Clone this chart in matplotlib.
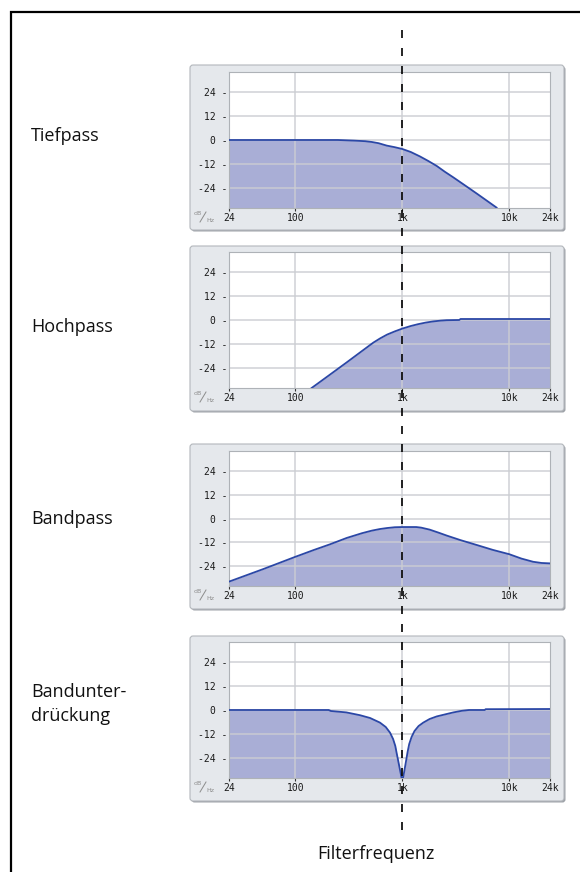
import matplotlib
matplotlib.use("Agg")
import matplotlib.pyplot as plt
from matplotlib.patches import FancyBboxPatch

# ---------------- data ----------------
panel_names = ["Tiefpass", "Hochpass", "Bandpass", "Bandunter-\ndrückung"]

x_ticks = [24, 100, 1000, 10000, 24000]
x_tick_labels = ["24", "100", "1k", "10k", "24k"]
y_ticks = [24, 12, 0, -12, -24]
y_tick_labels = ["24 -", "12 -", "0 -", "-12 -", "-24 -"]
x_grid = [100, 1000, 10000]

lowpass_freq = [24, 100, 250, 350, 450, 520, 600, 715, 850, 1000, 1200, 1460, 1750,
                2100, 2500, 3000, 4000, 5000, 6000, 7600]
lowpass_db = [0, 0, 0, -0.3, -0.6, -1.0, -1.6, -2.8, -3.6, -4.5, -6.0, -8.2, -10.5,
              -13.0, -15.9, -18.7, -23.3, -26.9, -29.9, -33.8]

highpass_freq = [142, 200, 302, 420, 536, 620, 720, 850, 1000, 1200, 1400, 1650, 1950,
                 2300, 2600, 3400, 3500, 24000]
highpass_db = [-34, -28.2, -21.2, -15.5, -11.3, -9.2, -7.3, -5.7, -4.3, -3.0, -2.1, -1.3,
               -0.7, -0.3, -0.1, 0, 0.5, 0.5]

bandpass_freq = [24, 50, 100, 150, 211, 302, 420, 520, 618, 720, 850, 1000, 1350, 1500,
                 1800, 2200, 2600, 3500, 5000, 7000, 10000, 13000, 16700, 20000, 24000]
bandpass_db = [-31.8, -25.5, -19.3, -15.8, -13.0, -9.8, -7.4, -6.1, -5.3, -4.8, -4.4, -4.3,
               -4.3, -4.6, -5.6, -7.2, -8.6, -10.9, -13.4, -15.8, -18.0, -20.2, -21.8,
               -22.4, -22.6]

notch_freq = [24, 205, 215, 300, 402, 500, 618, 700, 767, 820, 860, 885, 920, 960, 985,
              1015, 1040, 1080, 1120, 1160, 1220, 1300, 1420, 1570, 1800, 2100, 2600,
              3000, 3600, 4200, 5900, 6000, 24000]
notch_db = [0, 0, -0.5, -1.2, -2.6, -4.0, -6.3, -8.5, -11.3, -14.5, -18.0, -21.5, -26.0,
            -31.0, -34.0, -34.0, -31.0, -26.0, -21.0, -17.0, -13.5, -10.5, -8.0, -6.3,
            -4.5, -3.2, -2.0, -1.2, -0.4, 0, 0, 0.4, 0.5]

curves_freq = [lowpass_freq, highpass_freq, bandpass_freq, notch_freq]
curves_db = [lowpass_db, highpass_db, bandpass_db, notch_db]

filter_freq = 1000
x_range = (24, 24000)
y_range = (-34, 34)

# ---------------- layout (pixels) ----------------
W, H = 580, 872
plot_rects = [(229, 72, 550, 208), (229, 252, 550, 388), (229, 451, 550, 586), (229, 642, 550, 778)]
box_rects = [(190, 65, 564, 230), (190, 246, 564, 411), (190, 444, 564, 609), (190, 636, 564, 801)]
label_baselines = [141, 332, 524, 721]

fill_color = "#a9aed6"
line_color = "#2b47a6"
box_face = "#e5e8ec"
box_edge = "#b3b7bc"
grid_color = "#cbcdd2"
tick_color = "#333333"

fig = plt.figure(figsize=(W / 100, H / 100), dpi=100)
fig.patch.set_facecolor("white")

bg = fig.add_axes([0, 0, 1, 1])
bg.set_xlim(0, W)
bg.set_ylim(H, 0)
bg.axis("off")

# outer frame (left and top edges)
bg.plot([11, 11, W + 5], [H + 5, 12, 12], color="black", lw=1.6, solid_joinstyle="miter", zorder=1)

label_font = ["Open Sans", "DejaVu Sans"]
mono_font = ["DejaVu Sans Mono"]

axes = []
for i in range(4):
    bx0, by0, bx1, by1 = box_rects[i]
    # shadow
    bg.add_patch(FancyBboxPatch((bx0 + 1.5, by0 + 1.5), bx1 - bx0, by1 - by0,
                                boxstyle="round,pad=0,rounding_size=3",
                                facecolor="#9ea2a8", edgecolor="none", zorder=2))
    bg.add_patch(FancyBboxPatch((bx0, by0), bx1 - bx0, by1 - by0,
                                boxstyle="round,pad=0,rounding_size=3",
                                facecolor=box_face, edgecolor=box_edge, lw=0.8, zorder=3))

    l, t, r, b = plot_rects[i]
    ax = fig.add_axes([l / W, 1 - b / H, (r - l) / W, (b - t) / H])
    ax.set_zorder(5)
    ax.set_facecolor("white")
    ax.set_xscale("log")
    ax.set_xlim(*x_range)
    ax.set_ylim(*y_range)

    f = curves_freq[i]
    d = curves_db[i]
    ax.fill_between(f, d, y_range[0] - 5, color=fill_color, lw=0, zorder=1)
    for yv in y_ticks:
        ax.axhline(yv, color=grid_color, lw=1.2, alpha=0.85, zorder=2)
    for xv in x_grid:
        ax.axvline(xv, color=grid_color, lw=1.2, alpha=0.85, zorder=2)
    ax.plot(f, d, color=line_color, lw=1.3, zorder=3, solid_joinstyle="round")

    ax.minorticks_off()
    ax.set_xticks(x_ticks)
    ax.set_xticklabels(x_tick_labels, family=mono_font, fontsize=7)
    ax.set_yticks(y_ticks)
    ax.set_yticklabels(y_tick_labels, family=mono_font, fontsize=7)
    ax.tick_params(axis="x", direction="out", length=2.5, width=0.8, color=tick_color,
                   labelcolor="#1a1a1a", pad=0.8)
    ax.tick_params(axis="y", length=0, pad=1.2, labelcolor="#1a1a1a")
    for s in ax.spines.values():
        s.set_color("#aeb2b7")
        s.set_linewidth(0.8)
    axes.append(ax)

    # dB/Hz marker
    yb = b
    bg.text(194, yb + 5.5, "dB", fontsize=4.5, color="#8c8c8c", family=["DejaVu Sans"],
            ha="left", va="center", zorder=6)
    bg.plot([200, 206], [yb + 14, yb + 4], color="#8c8c8c", lw=0.7, zorder=6)
    bg.text(206.5, yb + 12.5, "Hz", fontsize=4.5, color="#8c8c8c", family=["DejaVu Sans"],
            ha="left", va="center", zorder=6)

    # panel label
    bg.text(31, label_baselines[i], panel_names[i], fontsize=13, family=label_font,
            ha="left", va="baseline", color="#111111", zorder=6, linespacing=1.45)

# dashed filter-frequency line, positioned through the panel axes' scale
x_px = axes[0].transData.transform((filter_freq, 0))[0]
top = fig.add_axes([0, 0, 1, 1])
top.set_zorder(20)
top.patch.set_alpha(0)
top.set_xlim(0, W)
top.set_ylim(H, 0)
top.axis("off")
top.plot([x_px, x_px], [30, 838], color="black", lw=1.2, linestyle=(0, (4.8, 6.0)))

bg.text(376, 859, "Filterfrequenz", fontsize=13, family=label_font, ha="center",
        va="baseline", color="#111111", zorder=6)

fig.savefig("out.png", dpi=100, facecolor="white")
